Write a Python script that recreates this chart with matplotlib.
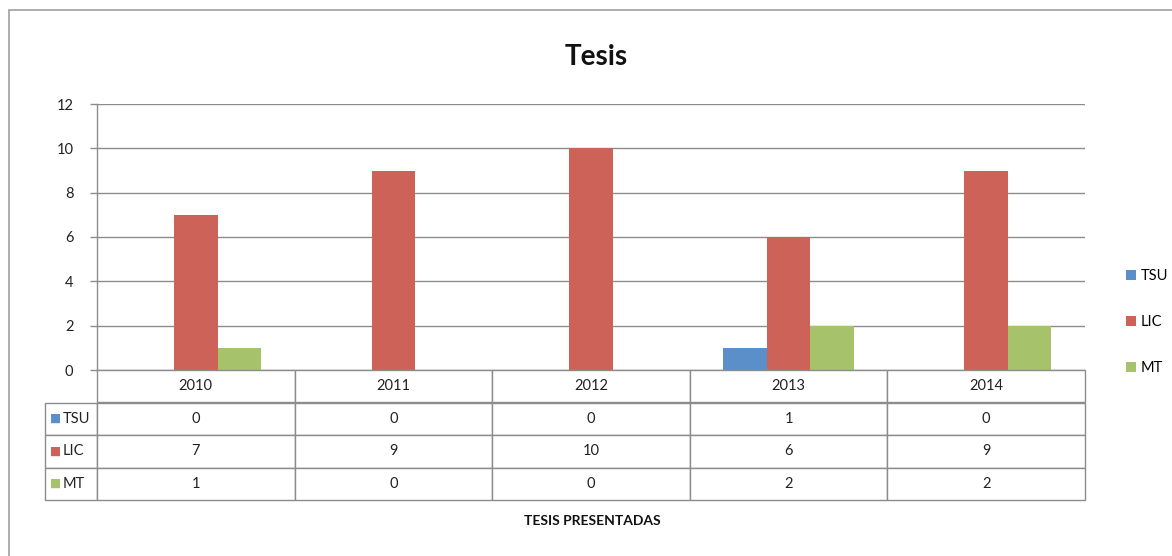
import matplotlib
matplotlib.use('Agg')
import matplotlib.pyplot as plt
import numpy as np
from matplotlib.patches import Rectangle

plt.rcParams['font.family'] = ['Lato', 'DejaVu Sans']

years = ['2010', '2011', '2012', '2013', '2014']
series = ['TSU', 'LIC', 'MT']
tsu = [0, 0, 0, 1, 0]
lic = [7, 9, 10, 6, 9]
mt = [1, 0, 0, 2, 2]
colors = ['#5b8fca', '#cd6259', '#a6c36b']

W, H = 1172, 556
grey = '#8c8c8c'

fig = plt.figure(figsize=(W / 100, H / 100), dpi=100)

# outer chart border (left / top visible)
fig.patches.append(Rectangle((9 / W, -0.1), 1.2, 1 - 10 / H + 0.1,
                             transform=fig.transFigure, fill=False,
                             edgecolor='#a0a0a0', linewidth=1.2))

# plot area
x0, x1 = 97, 1085
ytop, ybot = 104, 370
ax = fig.add_axes([x0 / W, 1 - ybot / H, (x1 - x0) / W, (ybot - ytop) / H])

x = np.arange(len(years))
w = 0.22
handles = []
for i, vals in enumerate([tsu, lic, mt]):
    b = ax.bar(x + (i - 1) * w, vals, width=w, color=colors[i], label=series[i], zorder=3)
    handles.append(b)

ax.set_xlim(-0.5, len(years) - 0.5)
ax.set_ylim(0, 12)
ax.set_yticks(range(0, 13, 2))
ax.tick_params(axis='y', labelsize=10.5, colors=grey, labelcolor='#222222',
               length=5, width=1, pad=12)
ax.set_xticks([])
ax.grid(axis='y', color=grey, linewidth=1, zorder=0)
for s in ['top', 'right', 'bottom']:
    ax.spines[s].set_visible(False)
ax.spines['left'].set_color(grey)
ax.spines['left'].set_linewidth(1)

# data table
tl, tr, tb = 45, 1085, 500
ax_t = fig.add_axes([tl / W, 1 - tb / H, (tr - tl) / W, (tb - ybot) / H])
ax_t.axis('off')
cell_text = [[''] + [str(v) for v in vals] for vals in [tsu, lic, mt]]
colw = [(x0 - tl) / (tr - tl)] + [(x1 - x0) / len(years) / (tr - tl)] * len(years)
tab = ax_t.table(cellText=cell_text, colLabels=[''] + years, colWidths=colw,
                 cellLoc='center', bbox=[0, 0, 1, 1])
tab.auto_set_font_size(False)
for (r, c), cell in tab.get_celld().items():
    cell.set_edgecolor(grey)
    cell.set_linewidth(1)
    cell.get_text().set_fontsize(10.5)
    cell.get_text().set_color('#222222')
tab[0, 0].visible_edges = ''

nrows = len(series) + 1
for i, name in enumerate(series):
    yc = 1 - (i + 1.5) / nrows
    ax_t.text(5 / (tr - tl), yc, '\u25a0', color=colors[i], fontsize=8.5,
              ha='left', va='center', family='DejaVu Sans')
    ax_t.text(18 / (tr - tl), yc, name, color='#222222', fontsize=10.5,
              ha='left', va='center')

fig.text(592 / W, 1 - 521 / H, 'TESIS PRESENTADAS', ha='center', va='center',
         fontsize=10, fontweight='bold', color='#111111')

fig.text(596 / W, 1 - 57 / H, 'Tesis', ha='center', va='center',
         fontsize=20, fontweight='bold', color='#111111')

fig.legend(handles, series, loc='center left',
           bbox_to_anchor=(1113 / W, 1 - 322 / H), frameon=False,
           handlelength=0.7, handleheight=0.7, handletextpad=0.3,
           labelspacing=2.2, fontsize=10.5)

fig.savefig('out.png', dpi=100)
